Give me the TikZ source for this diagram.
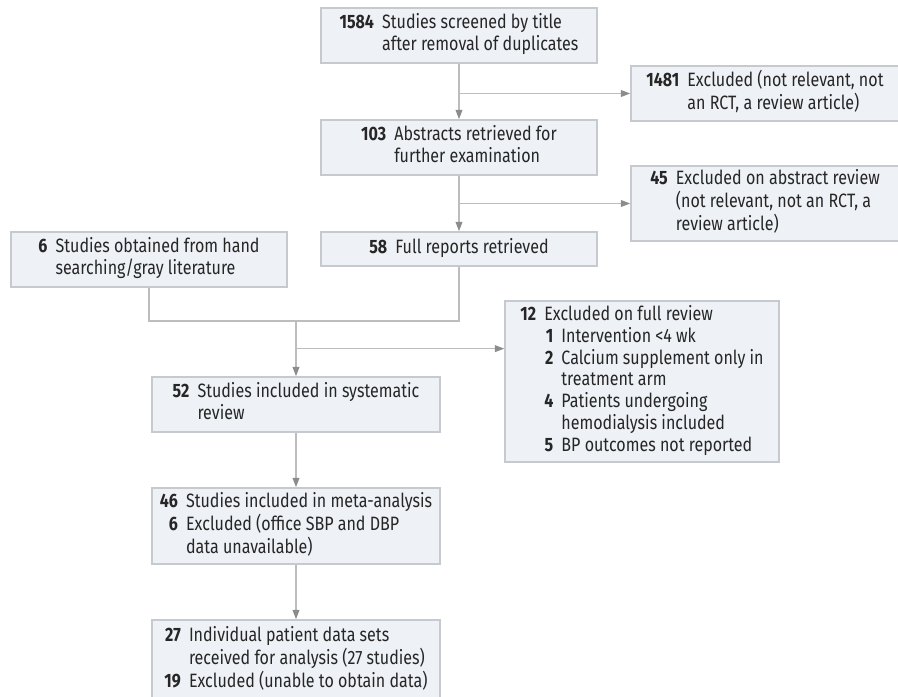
\documentclass[tikz,border=0pt]{standalone}
\usepackage{fontspec}
\setmainfont{Fira Sans}[FakeStretch=0.83]
\usetikzlibrary{arrows.meta,calc}
\definecolor{boxfill}{HTML}{EEF1F5}
\definecolor{boxline}{HTML}{C6C9CD}
\definecolor{conn}{HTML}{BDBDBD}
\definecolor{tipc}{HTML}{8C8C8C}
\definecolor{txt}{HTML}{262626}
\newcommand{\nm}[1]{\textbf{#1}}
\newcommand{\gp}{\hspace{0.42em}}
\begin{document}
\begin{tikzpicture}[x=0.75pt,y=-0.75pt,
  flowbox/.style={draw=boxline, fill=boxfill, line width=1.1pt, inner sep=0pt,
    align=center, font=\fontsize{14.5}{16.3}\selectfont, text=txt},
  conline/.style={draw=conn, line width=1.1pt},
  arr/.style={conline, -{Triangle[length=7pt,width=5pt,color=tipc]}}]
\useasboundingbox (0,0) rectangle (898,696);

\node[flowbox, minimum width=207pt, minimum height=41.25pt] (b1) at (459,35.5)
  {\begin{tabular}{@{}r@{\gp}l@{}}\nm{1584} & Studies screened by title\\ & after removal of duplicates\end{tabular}};
\node[flowbox, minimum width=201pt, minimum height=41.25pt] (e1) at (765,93.5)
  {\begin{tabular}{@{}r@{\gp}l@{}}\nm{1481} & Excluded (not relevant, not\\ & an RCT, a review article)\end{tabular}};
\node[flowbox, minimum width=207pt, minimum height=41.25pt] (b2) at (459,147.5)
  {\begin{tabular}{@{}r@{\gp}l@{}}\nm{103} & Abstracts retrieved for\\ & further examination\end{tabular}};
\node[flowbox, minimum width=201pt, minimum height=56.25pt] (e2) at (765,203.5)
  {\begin{tabular}{@{}r@{\gp}l@{}}\nm{45} & Excluded on abstract review\\ & (not relevant, not an RCT, a\\ & review article)\end{tabular}};
\node[flowbox, minimum width=207pt, minimum height=25.5pt] (b3) at (459,249)
  {\begin{tabular}{@{}r@{\gp}l@{}}\nm{58} & Full reports retrieved\end{tabular}};
\node[flowbox, minimum width=207pt, minimum height=41.25pt] (s6) at (149,259.5)
  {\begin{tabular}{@{}r@{\gp}l@{}}\nm{6} & Studies obtained from hand\\ & searching/gray literature\end{tabular}};
\node[flowbox, minimum width=205.5pt, minimum height=120.75pt] (e3) at (642,381.5)
  {\begin{tabular}{@{}r@{\gp}r@{\gp}l@{}}\nm{12} & \multicolumn{2}{@{}l@{}}{Excluded on full review}\\
   & \nm{1} & Intervention <4 wk\\
   & \nm{2} & Calcium supplement only in\\
   & & treatment arm\\
   & \nm{4} & Patients undergoing\\
   & & hemodialysis included\\
   & \nm{5} & BP outcomes not reported\end{tabular}};
\node[flowbox, minimum width=216pt, minimum height=41.25pt] (b4) at (296,404.5)
  {\begin{tabular}{@{}r@{\gp}l@{}}\nm{52} & Studies included in systematic\\ & review\end{tabular}};
\node[flowbox, minimum width=216pt, minimum height=57pt] (b5) at (296,526)
  {\begin{tabular}{@{}r@{\gp}l@{}}\nm{46} & Studies included in meta-analysis\\ \nm{6} & Excluded (office SBP and DBP\\ & data unavailable)\end{tabular}};
\node[flowbox, minimum width=216pt, minimum height=60pt] (b6) at (296,660)
  {\begin{tabular}{@{}r@{\gp}l@{}}\nm{27} & Individual patient data sets\\ & received for analysis (27 studies)\\ \nm{19} & Excluded (unable to obtain data)\end{tabular}};

% connectors
\draw[arr] (b1) -- (b2);
\draw[arr] (b1.south |- e1.west) -- (e1.west);
\draw[arr] (b2) -- (b3);
\draw[arr] (b2.south |- e2.west) -- (e2.west);
\coordinate (m) at (296,321);
\draw[conline] (s6.south) |- (m) -| (b3.south);
\draw[arr] (m) -- (b4.north);
\coordinate (j3) at ($(m)!0.5!(b4.north)$);
\draw[arr] (j3) -- (j3 -| e3.west);
\draw[arr] (b4) -- (b5);
\draw[arr] (b5) -- (b6);
\end{tikzpicture}
\end{document}
